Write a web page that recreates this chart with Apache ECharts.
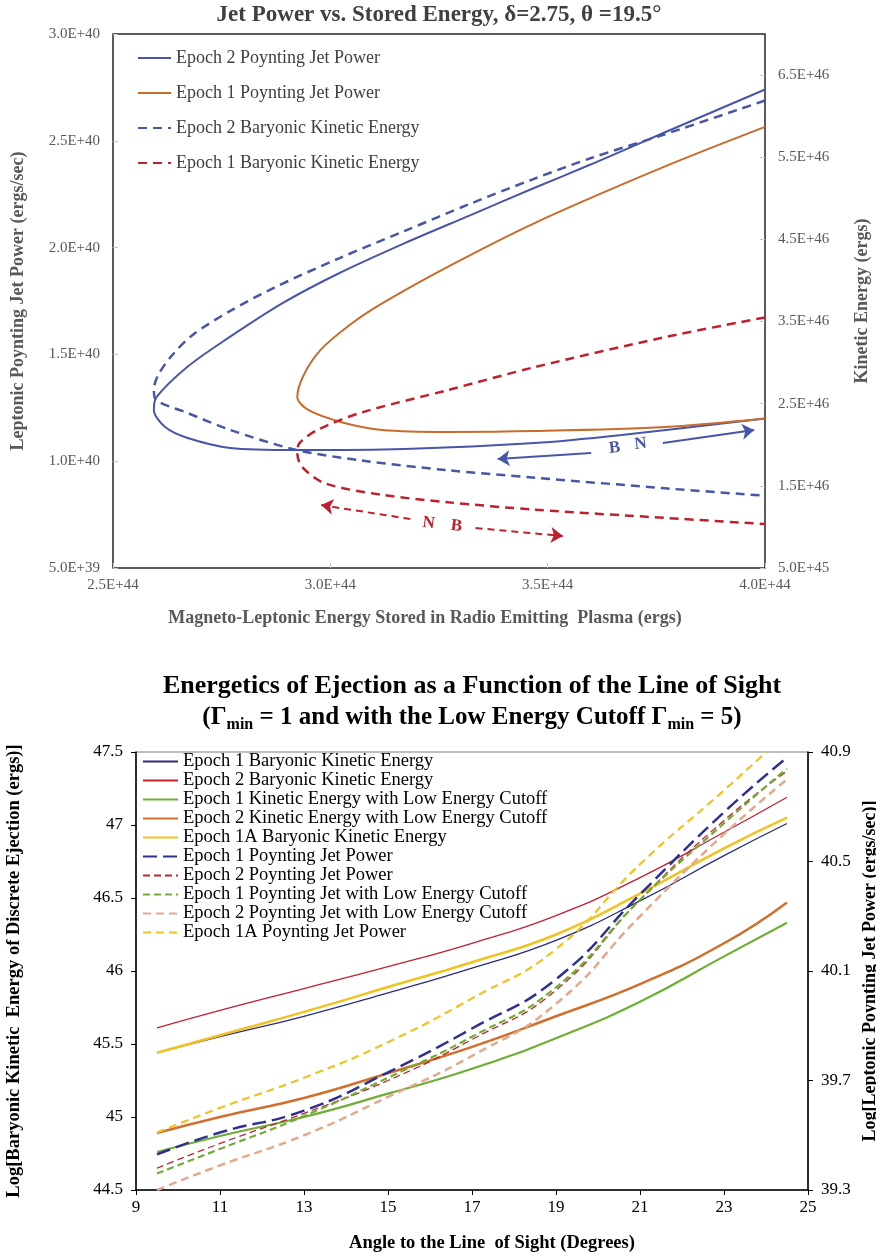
<!DOCTYPE html>
<html>
<head>
<meta charset="utf-8">
<script src="https://cdn.jsdelivr.net/npm/echarts@6/dist/echarts.min.js"></script>
<style>
  html, body { margin: 0; padding: 0; background: #fff; }
  #top { width: 876px; height: 640px; }
  #bottom { width: 876px; height: 618px; }
</style>
</head>
<body>
<div id="top"></div>
<div id="bottom"></div>
<script>
// ---------- top chart: stored energy (1e44 ergs) vs jet power (1e40 erg/s) and kinetic energy (1e46 ergs)
const e2PowerX = [4.00, 3.77, 3.60, 3.47, 3.32, 3.17, 3.02, 2.89, 2.76, 2.67, 2.60, 2.594, 2.62, 2.67, 2.77, 2.92, 3.17, 3.47, 3.67, 4.00];
const e2PowerY = [2.74, 2.54, 2.39, 2.28, 2.15, 2.02, 1.88, 1.74, 1.57, 1.44, 1.30, 1.24, 1.16, 1.11, 1.062, 1.052, 1.057, 1.085, 1.123, 1.20];

const e1PowerX = [4.00, 3.77, 3.47, 3.27, 3.12, 3.046, 2.977, 2.938, 2.924, 2.949, 3.03, 3.12, 3.27, 3.47, 3.77, 4.00];
const e1PowerY = [2.565, 2.38, 2.115, 1.91, 1.74, 1.64, 1.52, 1.40, 1.30, 1.24, 1.18, 1.146, 1.137, 1.141, 1.16, 1.20];

const e2KineticX = [4.00, 3.77, 3.60, 3.47, 3.32, 3.17, 3.02, 2.87, 2.77, 2.684, 2.636, 2.604, 2.594, 2.60, 2.67, 2.77, 2.92, 3.07, 3.27, 3.47, 3.77, 4.00];
const e2KineticY = [6.19, 5.78, 5.49, 5.24, 4.93, 4.60, 4.27, 3.91, 3.63, 3.34, 3.09, 2.85, 2.67, 2.54, 2.39, 2.18, 1.94, 1.81, 1.69, 1.60, 1.47, 1.38];

const e1KineticX = [4.00, 3.77, 3.47, 3.27, 3.07, 2.97, 2.929, 2.924, 2.935, 2.988, 3.12, 3.27, 3.47, 3.77, 4.00];
const e1KineticY = [3.55, 3.31, 2.945, 2.665, 2.39, 2.18, 2.02, 1.90, 1.73, 1.53, 1.39, 1.30, 1.21, 1.11, 1.035];

const kineticTicks = [0.5, 1.5, 2.5, 3.5, 4.5, 5.5, 6.5];

// annotation arrows (data coordinates)
const blueArrows = [[[3.60, 1.038], [3.385, 1.010]], [[3.765, 1.085], [3.975, 1.146]]];
const blueLetters = [['B', 3.654, 1.062], ['N', 3.714, 1.081]];
const redArrows = [[[3.184, 1.096], [2.979, 1.266]], [[3.334, 0.987], [3.535, 0.889]]];
const redLetters = [['N', 3.226, 1.047], ['B', 3.290, 1.011]];

// ---------- bottom chart: angle to the line of sight (degrees)
const angles = [9.5, 11, 13, 15, 17, 19, 21, 23, 24.5];
const e1Baryonic   = [45.44, 45.55, 45.69, 45.85, 46.02, 46.21, 46.48, 46.79, 47.01];
const e2Baryonic   = [45.61, 45.73, 45.88, 46.03, 46.19, 46.38, 46.64, 46.95, 47.19];
const e1Cutoff     = [44.76, 44.87, 45.00, 45.16, 45.33, 45.54, 45.79, 46.10, 46.33];
const e2Cutoff     = [44.89, 45.00, 45.13, 45.30, 45.48, 45.69, 45.91, 46.19, 46.47];
const e1aBaryonic  = [45.44, 45.56, 45.72, 45.89, 46.06, 46.25, 46.53, 46.84, 47.05];
const e1Poynting   = [39.43, 39.51, 39.59, 39.73, 39.89, 40.07, 40.38, 40.68, 40.88];
const e2Poynting   = [39.38, 39.47, 39.58, 39.70, 39.85, 40.03, 40.36, 40.65, 40.83];
const e1PoyCutoff  = [39.36, 39.45, 39.57, 39.71, 39.86, 40.04, 40.36, 40.64, 40.84];
const e2PoyCutoff  = [39.30, 39.39, 39.50, 39.64, 39.79, 39.98, 40.30, 40.60, 40.80];
const e1aPoynting  = [39.51, 39.60, 39.71, 39.84, 40.00, 40.18, 40.49, 40.76, 40.97];

const angleTicks = [9, 11, 13, 15, 17, 19, 21, 23, 25];
const jetTicks = [39.3, 39.7, 40.1, 40.5, 40.9];

const FONT = 'Liberation Serif';
const BLUE = '#4756A8';
const ORANGE = '#C96B2B';
const RED = '#C0202E';

const pairs = (xs, ys) => xs.map((x, i) => [x, ys[i]]);
const sci = unit => v => (v * unit).toExponential(1).toUpperCase();

const arrowLines = arrows => arrows.map(a => [
  { coord: a[0], symbol: 'none' },
  { coord: a[1], symbol: 'arrow' }
]);
const letterPoints = letters => letters.map(l => ({ name: l[0], coord: [l[1], l[2]] }));

const greyLabel = { color: '#595959', fontFamily: FONT, fontSize: 15 };
const greyName = { color: '#595959', fontFamily: FONT, fontSize: 18, fontWeight: 'bold' };

const topChart = echarts.init(document.getElementById('top'));
topChart.setOption({
  animation: false,
  title: {
    text: 'Jet Power vs. Stored Energy, δ=2.75, θ =19.5°',
    left: 439, textAlign: 'center', top: 4, padding: 0,
    textStyle: { fontFamily: FONT, fontSize: 23, fontWeight: 'bold', color: '#404040' }
  },
  legend: {
    orient: 'vertical', left: 137, top: 49, padding: 0,
    itemWidth: 33, itemHeight: 14, itemGap: 17,
    itemStyle: { opacity: 0 },
    textStyle: { fontFamily: FONT, fontSize: 18, color: '#404040', lineHeight: 18 },
    data: ['Epoch 2 Poynting Jet Power', 'Epoch 1 Poynting Jet Power',
           'Epoch 2 Baryonic Kinetic Energy', 'Epoch 1 Baryonic Kinetic Energy']
  },
  grid: {
    left: 113, right: 111, top: 34, height: 534,
    show: true, borderColor: '#262626', borderWidth: 1.5,
    outerBoundsMode: 'none'
  },
  xAxis: {
    type: 'value', min: 2.5, max: 4.0, interval: 0.5,
    name: 'Magneto-Leptonic Energy Stored in Radio Emitting  Plasma (ergs)',
    nameLocation: 'middle', nameGap: 41,
    nameTextStyle: Object.assign({ padding: [0, 28, 0, 0] }, greyName),
    axisLine: { show: false },
    axisTick: { show: true, inside: true, length: 5, lineStyle: { color: '#c8c8c8' } },
    axisLabel: Object.assign({ formatter: sci(1e44), margin: 10 }, greyLabel),
    splitLine: { show: false }
  },
  yAxis: [{
    type: 'value', position: 'left', min: 0.5, max: 3.0, interval: 0.5,
    name: 'Leptonic Poynting Jet Power (ergs/sec)',
    nameLocation: 'middle', nameRotate: 90, nameGap: 86, nameTextStyle: greyName,
    axisLine: { show: false },
    axisTick: { show: true, inside: true, length: 5, lineStyle: { color: '#c8c8c8' } },
    axisLabel: Object.assign({ formatter: sci(1e40), margin: 13 }, greyLabel),
    splitLine: { show: false }
  }, {
    type: 'value', position: 'right', min: 0.5, max: 7.0, interval: 1,
    name: 'Kinetic Energy (ergs)',
    nameLocation: 'middle', nameRotate: 90, nameGap: 88, nameTextStyle: greyName,
    axisLine: { show: false },
    axisTick: { show: true, inside: true, length: 5, customValues: kineticTicks, lineStyle: { color: '#c8c8c8' } },
    axisLabel: Object.assign({ formatter: sci(1e46), margin: 13, customValues: kineticTicks }, greyLabel),
    splitLine: { show: false }
  }],
  series: [{
    name: 'Epoch 2 Poynting Jet Power', type: 'line', symbol: 'none', smooth: 0.3,
    data: pairs(e2PowerX, e2PowerY),
    lineStyle: { color: BLUE, width: 2 }, itemStyle: { color: BLUE },
    markLine: {
      silent: true, animation: false, symbolSize: 12, label: { show: false },
      lineStyle: { color: BLUE, width: 2, type: 'solid' },
      data: arrowLines(blueArrows)
    },
    markPoint: {
      silent: true, animation: false, symbol: 'rect', symbolSize: 1,
      itemStyle: { color: 'rgba(0,0,0,0)' },
      label: { show: true, position: 'inside', formatter: '{b}', color: BLUE, fontFamily: FONT, fontSize: 17, fontWeight: 'bold', rotate: 6.5 },
      data: letterPoints(blueLetters)
    }
  }, {
    name: 'Epoch 1 Poynting Jet Power', type: 'line', symbol: 'none', smooth: 0.3,
    data: pairs(e1PowerX, e1PowerY),
    lineStyle: { color: ORANGE, width: 2 }, itemStyle: { color: ORANGE }
  }, {
    name: 'Epoch 2 Baryonic Kinetic Energy', type: 'line', symbol: 'none', smooth: 0.3, yAxisIndex: 1,
    data: pairs(e2KineticX, e2KineticY),
    lineStyle: { color: BLUE, width: 2.5, type: [9, 6] }, itemStyle: { color: BLUE }
  }, {
    name: 'Epoch 1 Baryonic Kinetic Energy', type: 'line', symbol: 'none', smooth: 0.3, yAxisIndex: 1,
    data: pairs(e1KineticX, e1KineticY),
    lineStyle: { color: RED, width: 2.5, type: [9, 6] }, itemStyle: { color: RED },
    markLine: {
      silent: true, animation: false, symbolSize: 12, label: { show: false },
      lineStyle: { color: RED, width: 2, type: [7, 5] },
      data: arrowLines(redArrows)
    },
    markPoint: {
      silent: true, animation: false, symbol: 'rect', symbolSize: 1,
      itemStyle: { color: 'rgba(0,0,0,0)' },
      label: { show: true, position: 'inside', formatter: '{b}', color: RED, fontFamily: FONT, fontSize: 17, fontWeight: 'bold', rotate: -7 },
      data: letterPoints(redLetters)
    }
  }]
});

// ---------- bottom chart
const blackLabel = { color: '#000', fontFamily: FONT, fontSize: 17 };
const blackName = { color: '#000', fontFamily: FONT, fontSize: 18.5, fontWeight: 'bold' };
const blackAxis = { show: true, onZero: false, lineStyle: { color: '#000', width: 1.5 } };
const blackTick = { show: true, length: 5, lineStyle: { color: '#000', width: 1 } };

const bottomSeries = [
  ['Epoch 1 Baryonic Kinetic Energy', e1Baryonic, 0, '#2B2B80', 1.3, 'solid'],
  ['Epoch 2 Baryonic Kinetic Energy', e2Baryonic, 0, '#C42030', 1.3, 'solid'],
  ['Epoch 1 Kinetic Energy with Low Energy Cutoff', e1Cutoff, 0, '#70AD35', 2.2, 'solid'],
  ['Epoch 2 Kinetic Energy with Low Energy Cutoff', e2Cutoff, 0, '#D0702B', 2.5, 'solid'],
  ['Epoch 1A Baryonic Kinetic Energy', e1aBaryonic, 0, '#F2C220', 2.5, 'solid'],
  ['Epoch 1 Poynting Jet Power', e1Poynting, 1, '#2E3192', 2.5, [14, 6]],
  ['Epoch 2 Poynting Jet Power', e2Poynting, 1, '#C42030', 1.3, [7, 4]],
  ['Epoch 1 Poynting Jet with Low Energy Cutoff', e1PoyCutoff, 1, '#70AD35', 2.2, [7, 4]],
  ['Epoch 2 Poynting Jet with Low Energy Cutoff', e2PoyCutoff, 1, '#E3A98C', 2.5, [8, 5]],
  ['Epoch 1A Poynting Jet Power', e1aPoynting, 1, '#F2C220', 2.2, [8, 5]]
];

const bottomChart = echarts.init(document.getElementById('bottom'));
bottomChart.setOption({
  animation: false,
  title: [{
    text: 'Energetics of Ejection as a Function of the Line of Sight',
    left: 472, textAlign: 'center', top: 33, padding: 0,
    textStyle: { fontFamily: FONT, fontSize: 26, fontWeight: 'bold', color: '#000' }
  }, {
    text: '{a|(Γ}{s|min}{a| = 1 and with the Low Energy Cutoff Γ}{s|min}{a| = 5)}',
    left: 472, textAlign: 'center', top: 62, padding: 0,
    textStyle: {
      rich: {
        a: { fontFamily: FONT, fontSize: 25, fontWeight: 'bold', color: '#000', lineHeight: 31 },
        s: { fontFamily: FONT, fontSize: 16, fontWeight: 'bold', color: '#000', lineHeight: 15, verticalAlign: 'bottom' }
      }
    }
  }],
  legend: {
    orient: 'vertical', left: 142, top: 112, padding: 0,
    itemWidth: 35, itemHeight: 14, itemGap: 0,
    itemStyle: { opacity: 0 },
    textStyle: { fontFamily: FONT, fontSize: 18.5, color: '#000', lineHeight: 18.6 },
    data: bottomSeries.map(s => s[0])
  },
  grid: {
    left: 136, right: 68, top: 112, height: 438,
    show: true, borderColor: '#808080', borderWidth: 1,
    outerBoundsMode: 'none'
  },
  xAxis: {
    type: 'value', min: 9, max: 25, interval: 2,
    name: 'Angle to the Line  of Sight (Degrees)',
    nameLocation: 'middle', nameGap: 44,
    nameTextStyle: Object.assign({ padding: [0, 0, 0, 40] }, blackName),
    axisLine: blackAxis,
    axisTick: Object.assign({ customValues: angleTicks }, blackTick),
    axisLabel: Object.assign({ margin: 9, customValues: angleTicks }, blackLabel),
    splitLine: { show: false }
  },
  yAxis: [{
    type: 'value', position: 'left', min: 44.5, max: 47.5, interval: 0.5,
    name: 'Log[Baryonic Kinetic  Energy of Discrete Ejection (ergs)]',
    nameLocation: 'middle', nameRotate: 90, nameGap: 112, nameTextStyle: blackName,
    axisLine: blackAxis, axisTick: blackTick,
    axisLabel: Object.assign({ margin: 13, formatter: v => String(+v.toFixed(1)) }, blackLabel),
    splitLine: { show: false }
  }, {
    type: 'value', position: 'right', min: 39.3, max: 40.9, interval: 0.4,
    name: 'Log[Leptonic Poynting Jet Power (ergs/sec)]',
    nameLocation: 'middle', nameRotate: 90, nameGap: 45,
    nameTextStyle: Object.assign({}, blackName, { fontSize: 18 }),
    axisLine: blackAxis,
    axisTick: Object.assign({ customValues: jetTicks }, blackTick),
    axisLabel: Object.assign({ margin: 13, customValues: jetTicks, formatter: v => v.toFixed(1) }, blackLabel),
    splitLine: { show: false }
  }],
  series: bottomSeries.map(s => ({
    name: s[0], type: 'line', symbol: 'none', smooth: true, yAxisIndex: s[2],
    data: pairs(angles, s[1]),
    lineStyle: { color: s[3], width: s[4], type: s[5] },
    itemStyle: { color: s[3] }
  }))
});
</script>
</body>
</html>
